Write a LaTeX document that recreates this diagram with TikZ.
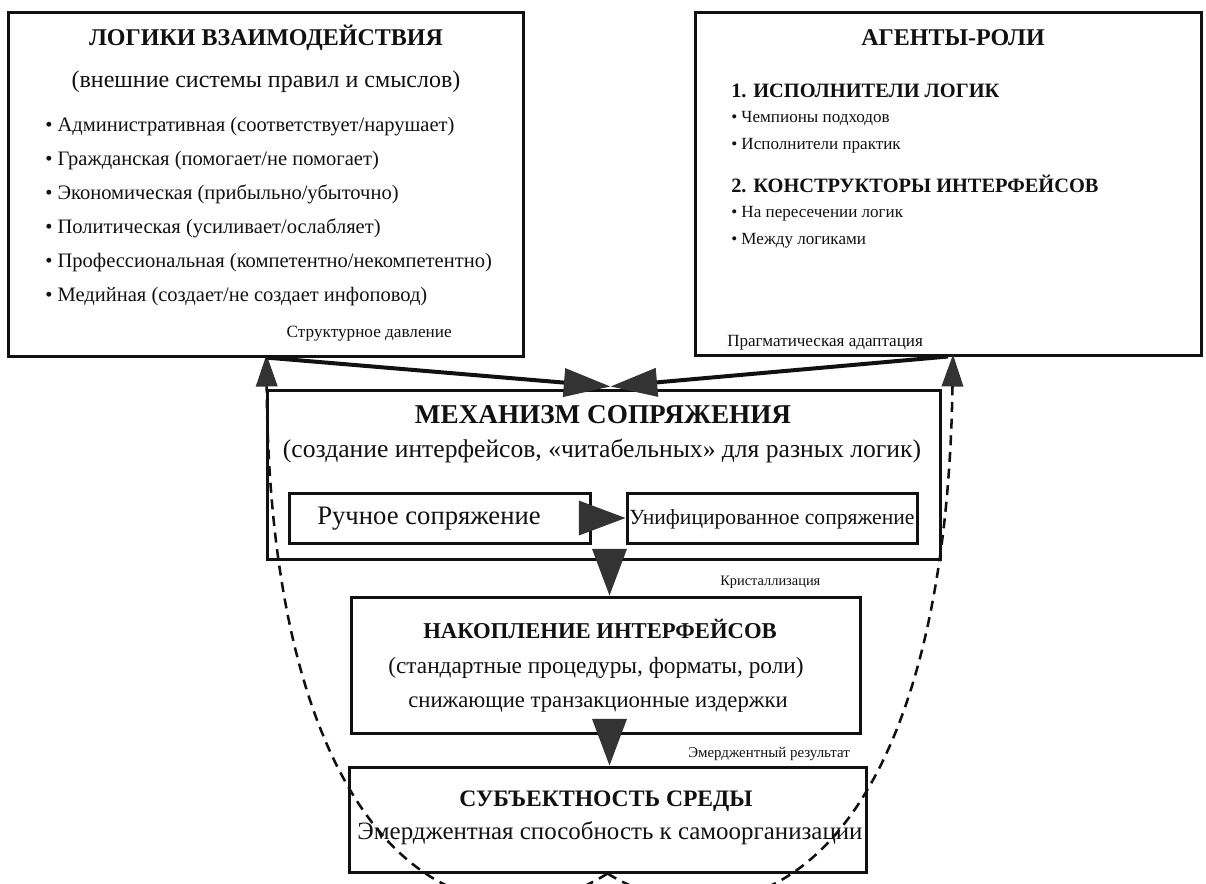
\documentclass[tikz,border=0pt]{standalone}
\usepackage{fontspec}
\setmainfont{Liberation Serif}
\usetikzlibrary{arrows.meta,calc,fit}
\definecolor{ink}{HTML}{111111}
\definecolor{headc}{HTML}{333333}
\newcommand\fsz[1]{\fontsize{#1}{#1}\selectfont}
\begin{document}
\begin{tikzpicture}[x=0.75pt,y=-0.75pt,
  box/.style={draw=ink, line width=2.25pt, inner sep=0pt},
  txt/.style={inner sep=0pt, text=ink},
  ttl/.style={txt, font=\fsz{18pt}\bfseries},
  bul/.style={txt, anchor=mid west, font=\fsz{15.4pt}},
  sbul/.style={txt, anchor=mid west, font=\fsz{12.8pt}},
  lbl/.style={txt, font=\fsz{12.9pt}},
  bigarrow/.style={draw=ink, line width=3pt, -{Triangle[length=35pt,width=21pt,fill=headc,color=headc]}},
  downarrow/.style={draw=headc, line width=1pt, -{Triangle[length=35pt,width=26pt,fill=headc,color=headc]}},
  dasharrow/.style={draw=ink, line width=1.9pt, dash pattern=on 7.5pt off 5pt, -{Triangle[length=24pt,width=16pt,fill=headc,color=headc]}}
]
\useasboundingbox (0,0) rectangle (1206,883);
\fill[white] (0,0) rectangle (1206,883);

% boxes
\node[box, fit={(8,12)(523,356)}] (L) {};
\node[box, fit={(695,12)(1201,355)}] (R) {};
\node[box, fit={(267,390)(940,559)}] (mech) {};
\node[box, fit={(289,493)(590,543)}] (man) {};
\node[box, fit={(627,493)(917,543)}] (uni) {};
\node[box, fit={(351,597)(860,733)}] (nak) {};
\node[box, fit={(349,767)(866,872)}] (subj) {};

% left box texts
\node[ttl, anchor=mid] (Lt) at (266,42) {ЛОГИКИ ВЗАИМОДЕЙСТВИЯ};
\node[txt, anchor=mid, font=\fsz{18pt}] (Ls) at (266,84) {(внешние системы правил и смыслов)};
\node[bul] (Lb1) at (45,128) {• Административная (соответствует/нарушает)};
\node[bul] (Lb2) at (45,162) {• Гражданская (помогает/не помогает)};
\node[bul] (Lb3) at (45,196) {• Экономическая (прибыльно/убыточно)};
\node[bul] (Lb4) at (45,230) {• Политическая (усиливает/ослабляет)};
\node[bul] (Lb5) at (45,264) {• Профессиональная (компетентно/некомпетентно)};
\node[bul] (Lb6) at (45,298) {• Медийная (создает/не создает инфоповод)};
\node[lbl, anchor=mid east] (Lp) at (452,334) {Структурное давление};

% right box texts
\node[ttl, anchor=mid] (Rt) at (953,42) {АГЕНТЫ-РОЛИ};
\node[txt, anchor=mid west, font=\fsz{15.3pt}\bfseries] (Rh1) at (731,94) {1. ИСПОЛНИТЕЛИ ЛОГИК};
\node[sbul] (Rb1) at (731,119) {• Чемпионы подходов};
\node[sbul] (Rb2) at (731,146) {• Исполнители практик};
\node[txt, anchor=mid west, font=\fsz{15.3pt}\bfseries] (Rh2) at (731,189) {2. КОНСТРУКТОРЫ ИНТЕРФЕЙСОВ};
\node[sbul] (Rb3) at (731,214) {• На пересечении логик};
\node[sbul] (Rb4) at (731,241) {• Между логиками};
\node[lbl, anchor=mid west, font=\fsz{12.8pt}] (Rp) at (727,343) {Прагматическая адаптация};

% mechanism texts
\node[txt, anchor=mid, font=\fsz{20.4pt}\bfseries] (Mt) at (603,420) {МЕХАНИЗМ СОПРЯЖЕНИЯ};
\node[txt, anchor=mid, font=\fsz{19.2pt}] (Ms) at (602,454) {(создание интерфейсов, «читабельных» для разных логик)};
\node[txt, anchor=mid, font=\fsz{20pt}] (Mm) at (429,521) {Ручное сопряжение};
\node[txt, anchor=mid, font=\fsz{16.2pt}] (Mu) at (772,521) {Унифицированное сопряжение};
\node[lbl, anchor=mid west, font=\fsz{10.8pt}] (Kr) at (720,582) {Кристаллизация};

% accumulation texts
\node[txt, anchor=mid, font=\fsz{17pt}\bfseries] (Nt) at (600,635) {НАКОПЛЕНИЕ ИНТЕРФЕЙСОВ};
\node[txt, anchor=mid, font=\fsz{17.5pt}] (Ns) at (596,670) {(стандартные процедуры, форматы, роли)};
\node[txt, anchor=mid, font=\fsz{17pt}] (Ns2) at (598,704) {снижающие транзакционные издержки};
\node[lbl, anchor=mid west, font=\fsz{11.2pt}] (Er) at (688,754) {Эмерджентный результат};

% subjectness texts
\node[txt, anchor=mid, font=\fsz{17.7pt}\bfseries] (St) at (606,803) {СУБЪЕКТНОСТЬ СРЕДЫ};
\node[txt, anchor=mid, font=\fsz{18.7pt}] (Ss) at (610,836) {Эмерджентная способность к самоорганизации};

% connectors
\draw[downarrow] (man.east) -- (uni.west);
\draw[downarrow] ($(mech.south)+(6,0)$) -- ($(nak.north)+(4,0)$);
\draw[downarrow] ($(nak.south)+(4,0)$) -- ($(subj.north)+(2,0)$);

\draw[dasharrow] (subj.south) .. controls (470,960) and (270,860) .. ($(L.south)+(1,-3)$);
\draw[dasharrow] (subj.south) .. controls (750,960) and (945,860) .. ($(R.south)+(5,-2)$);

\draw[bigarrow] (L.south) -- ($(mech.north)+(7,-2)$);
\draw[bigarrow] (R.south) -- ($(mech.north)+(7,-2)$);
\end{tikzpicture}
\end{document}
